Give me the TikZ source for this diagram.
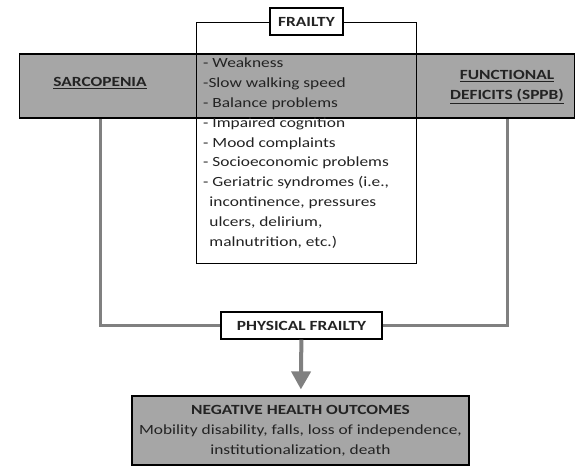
\documentclass[tikz,border=0pt]{standalone}
\usepackage{fontspec}
\setmainfont[FakeStretch=1.24]{Carlito}
\usetikzlibrary{arrows.meta}
\definecolor{bandgray}{RGB}{166,166,166}
\definecolor{linkgray}{RGB}{128,128,128}
\definecolor{inkgray}{RGB}{35,35,35}

\begin{document}
\begin{tikzpicture}[x=1pt,y=-1pt,
  every node/.style={text=inkgray,font=\fontsize{14}{19.8}\selectfont},
  graybox/.style={draw=black,line width=1.2pt,fill=bandgray},
  tag/.style={draw=black,fill=white,line width=1.3pt,font=\fontsize{14}{19.8}\selectfont\bfseries,minimum height=27pt},
  link/.style={draw=linkgray,line width=3pt}]
  \useasboundingbox (0,0) rectangle (575,471);
  % band across the top
  \node at (297,86) (band) [graybox,minimum width=555pt,minimum height=64pt] {};
  \node at (306,142.5) (frailty) [draw=black,line width=1pt,minimum width=220pt,minimum height=241pt] {};
  \node at (203,58) (list) [anchor=north west,inner sep=0pt,align=left] {- Weakness\\-Slow walking speed\\- Balance problems\\- Impaired cognition\\- Mood complaints\\- Socioeconomic problems\\- Geriatric syndromes (i.e.,\\\ \,incontinence, pressures\\\ \,ulcers, delirium,\\\ \,malnutrition, etc.)};
  \node at (306.5,21.5) (frailtytag) [tag,minimum width=73pt] {FRAILTY};
  \node at (100,83) (sarc) {\bfseries\underline{SARCOPENIA}};
  \node at (507,87) (func) [align=center] {\bfseries\underline{FUNCTIONAL}\\\bfseries\underline{DEFICITS (SPPB)}};
  % bottom part
  \node at (301.5,325.5) (phys) [tag,minimum width=161pt] {PHYSICAL FRAILTY};
  \node at (300.5,430.5) (neg) [graybox,minimum width=337pt,minimum height=69pt,align=center] {\bfseries NEGATIVE HEALTH OUTCOMES\\Mobility disability, falls, loss of independence,\\institutionalization, death};
  \draw[link,shorten <=0.6pt] (band.south -| sarc) |- (phys.west);
  \draw[link,shorten <=0.6pt] (band.south -| func) |- (phys.east);
  \draw[link,line width=4pt,shorten >=6pt,-{Triangle[width=19pt,length=18pt]}] (phys) -- (neg);
\end{tikzpicture}
\end{document}
